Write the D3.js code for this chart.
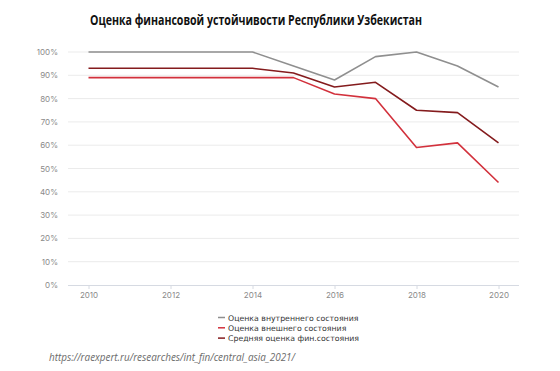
<!DOCTYPE html>
<html>
<head>
<meta charset="utf-8">
<script src="https://cdn.jsdelivr.net/npm/d3@7"></script>
<style>
  body { margin: 0; background: #fff; }
  svg { display: block; }
</style>
</head>
<body>
<svg id="chart"></svg>
<script>
// values
const years = [2010, 2011, 2012, 2013, 2014, 2015, 2016, 2017, 2018, 2019, 2020];
const internalScore = [100, 100, 100, 100, 100, 94, 88, 98, 100, 94, 85];
const externalScore = [89, 89, 89, 89, 89, 89, 82, 80, 59, 61, 44];
const averageScore = [93, 93, 93, 93, 93, 91, 85, 87, 75, 74, 61];
const seriesNames = ["Оценка внутреннего состояния", "Оценка внешнего состояния", "Средняя оценка фин.состояния"];
const yTicks = [0, 10, 20, 30, 40, 50, 60, 70, 80, 90, 100];
const xTicks = [2010, 2012, 2014, 2016, 2018, 2020];

const w = 560, h = 371;
const margin = { top: 52, right: 41, bottom: 86, left: 68 };
const colors = ["#8f8f8f", "#d2313c", "#841b1d"];

const svg = d3.select("#chart").attr("width", w).attr("height", h);

const series = [internalScore, externalScore, averageScore].map((vals, i) => ({
    name: seriesNames[i],
    color: colors[i],
    points: vals.map((v, j) => ({ year: years[j], value: v }))
}));

const xScale = d3.scaleLinear()
    .domain([2009.5, 2020.5])
    .range([margin.left, w - margin.right]);

const yScale = d3.scaleLinear()
    .domain([0, 100])
    .range([h - margin.bottom, margin.top]);

// title
svg.append("text")
    .attr("x", 90)
    .attr("y", 25)
    .attr("textLength", 332)
    .attr("lengthAdjust", "spacingAndGlyphs")
    .style("font-family", "'Open Sans', sans-serif")
    .style("font-weight", "bold")
    .style("font-size", "14px")
    .style("fill", "#111")
    .text("Оценка финансовой устойчивости Республики Узбекистан");

// gridlines
svg.append("g")
    .selectAll("line")
    .data(yTicks.filter(d => d > 0))
    .join("line")
    .attr("x1", margin.left)
    .attr("x2", w - margin.right)
    .attr("y1", d => yScale(d))
    .attr("y2", d => yScale(d))
    .attr("stroke", "#ebebeb")
    .attr("stroke-width", 1);

// y axis labels
let yAxis = g => g
    .attr("transform", `translate(${margin.left},0)`)
    .call(d3.axisLeft(yScale).tickValues(yTicks).tickSize(0).tickPadding(10).tickFormat(d => d + "%"))
    .call(g => g.select(".domain").remove())
    .call(g => g.selectAll("text")
        .style("font-family", "Inter, 'Open Sans', sans-serif")
        .style("font-size", "8px")
        .style("fill", "#8a8a8a"));

svg.append("g").call(yAxis);

// x axis
let xAxis = g => g
    .attr("transform", `translate(0,${yScale(0)})`)
    .call(d3.axisBottom(xScale).tickValues(xTicks).tickSize(4).tickPadding(3).tickFormat(d3.format("d")))
    .call(g => g.select(".domain").attr("d", `M${margin.left},0.5H${w - margin.right}`).attr("stroke", "#d6dae2"))
    .call(g => g.selectAll(".tick line").attr("stroke", "#d6dae2"))
    .call(g => g.selectAll("text")
        .style("font-family", "Inter, 'Open Sans', sans-serif")
        .style("font-size", "8px")
        .style("fill", "#8a8a8a"));

svg.append("g").call(xAxis);

// lines
const line = d3.line()
    .x(d => xScale(d.year))
    .y(d => yScale(d.value));

svg.append("g")
    .selectAll("path")
    .data(series)
    .join("path")
    .attr("d", d => line(d.points))
    .attr("fill", "none")
    .attr("stroke", d => d.color)
    .attr("stroke-width", 1.6)
    .attr("stroke-linejoin", "round");

// legend
const legend = svg.append("g").attr("transform", "translate(218,317.5)");
const rows = legend.selectAll("g")
    .data(series)
    .join("g")
    .attr("transform", (d, i) => `translate(0,${i * 10.3})`);

rows.append("line")
    .attr("x1", 0).attr("x2", 7)
    .attr("y1", 0).attr("y2", 0)
    .attr("stroke", d => d.color)
    .attr("stroke-width", 1.5);

rows.append("text")
    .attr("x", 10)
    .attr("y", 3)
    .style("font-family", "'DejaVu Sans', sans-serif")
    .style("font-size", "7.8px")
    .style("fill", "#333")
    .text(d => d.name);

// source
svg.append("text")
    .attr("x", 49)
    .attr("y", 361)
    .attr("textLength", 246)
    .attr("lengthAdjust", "spacingAndGlyphs")
    .style("font-family", "'Open Sans', sans-serif")
    .style("font-style", "italic")
    .style("font-size", "10.5px")
    .style("fill", "#6b6b6b")
    .text("https://raexpert.ru/researches/int_fin/central_asia_2021/");
</script>
</body>
</html>
